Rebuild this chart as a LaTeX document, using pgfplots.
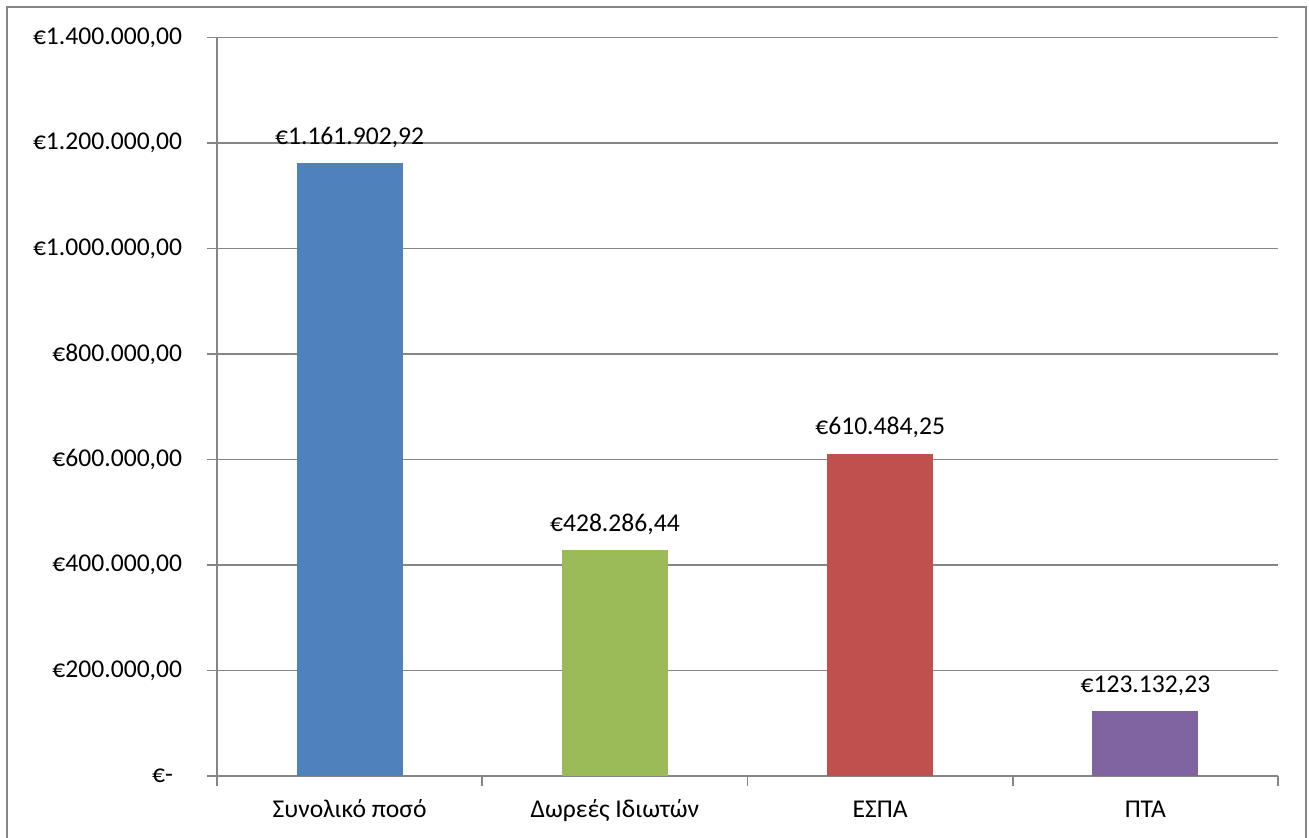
\documentclass[border=0pt]{standalone}
\usepackage{pgfplots}
\pgfplotsset{compat=1.18}
\usepackage{fontspec}
\setmainfont{Carlito}
\definecolor{cblue}{HTML}{4F81BD}
\definecolor{cgreen}{HTML}{9BBB59}
\definecolor{cred}{HTML}{C0504D}
\definecolor{cpurple}{HTML}{8064A2}
\definecolor{gridgray}{HTML}{868686}
\newcommand{\lbl}{\fontsize{12.8pt}{15pt}\selectfont}
\newcommand{\zerolbl}{\makebox[15pt][l]{€-}}
\begin{document}
\lbl
\begin{tikzpicture}
\useasboundingbox (0,0) rectangle (654.5pt,419pt);
\draw[gridgray, line width=0.8pt] (3.5pt,-3pt) rectangle (653pt,415.5pt);
\begin{axis}[
  at={(108.5pt,31pt)}, anchor=south west,
  scale only axis, width=530.5pt, height=369.25pt,
  xmin=-0.5, xmax=3.5, ymin=0, ymax=1400000,
  axis x line*=bottom, axis y line*=left,
  axis line style={gridgray, line width=0.8pt, -},
  ymajorgrids, grid style={gridgray, line width=0.8pt},
  tick align=outside, major tick length=5pt,
  tick style={gridgray, line width=0.8pt},
  ytick={0,200000,400000,600000,800000,1000000,1200000,1400000},
  yticklabels={\zerolbl,€200.000{,}00,€400.000{,}00,€600.000{,}00,€800.000{,}00,€1.000.000{,}00,€1.200.000{,}00,€1.400.000{,}00},
  scaled y ticks=false,
  yticklabel style={font=\lbl, anchor=east, xshift=-8pt},
  xtick={-0.5,0.5,1.5,2.5,3.5}, xticklabels={},
  extra x ticks={0,1,2,3},
  extra x tick labels={Συνολικό ποσό,Δωρεές Ιδιωτών,ΕΣΠΑ,ΠΤΑ},
  extra x tick style={major tick length=0pt, xticklabel style={font=\lbl, anchor=base, yshift=-21pt}},
  ybar, bar width=53pt, bar shift=0pt,
  point meta=explicit symbolic,
  nodes near coords,
  every node near coord/.append style={font=\lbl, anchor=base, yshift=9.5pt, inner sep=0pt, black},
  clip=false,
]
\addplot[fill=cblue, draw=none] coordinates {(0,1161902.92) [€1.161.902{,}92]};
\addplot[fill=cgreen, draw=none] coordinates {(1,428286.44) [€428.286{,}44]};
\addplot[fill=cred, draw=none] coordinates {(2,610484.25) [€610.484{,}25]};
\addplot[fill=cpurple, draw=none] coordinates {(3,123132.23) [€123.132{,}23]};
\end{axis}
\end{tikzpicture}
\end{document}
